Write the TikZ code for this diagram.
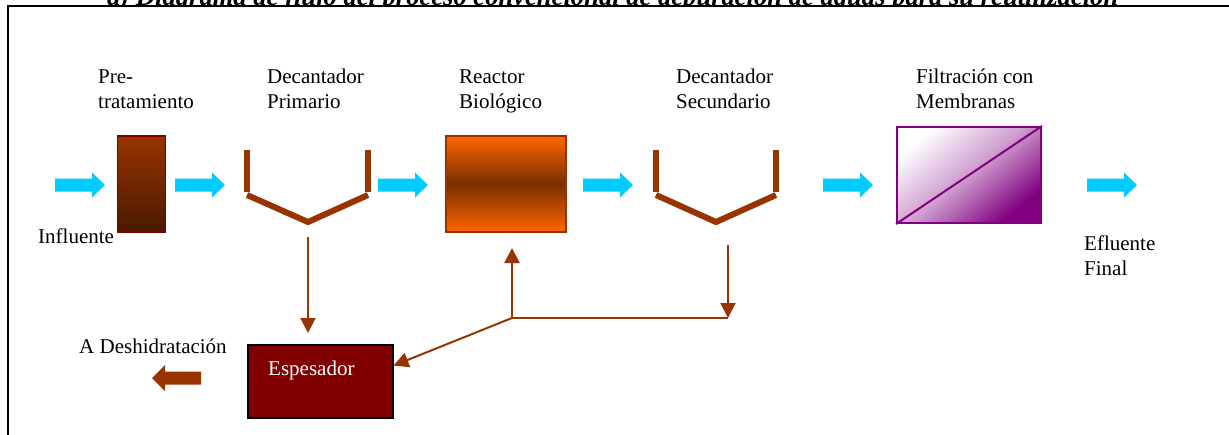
\documentclass[tikz,border=0pt]{standalone}
\usepackage{fontspec}
\setmainfont{Liberation Serif}
\usetikzlibrary{arrows.meta,calc}
\definecolor{rust}{HTML}{993300}
\definecolor{cyanar}{HTML}{00CCFF}
\definecolor{darkred}{HTML}{800000}
\definecolor{dkbrown}{HTML}{4A1A00}
\definecolor{orng}{HTML}{FF6600}
\definecolor{midbrown}{HTML}{7A2E00}
\definecolor{purp}{HTML}{800080}
\newcommand\bluearrow[4]{%
  \fill[cyanar] (#2,#4-6.5) -- (#3-13,#4-6.5) -- (#3-13,#4-12.5) -- (#3,#4)
    -- (#3-13,#4+12.5) -- (#3-13,#4+6.5) -- (#2,#4+6.5) -- cycle;
  \coordinate (#1) at ($(#2,#4)!0.5!(#3,#4)$);}
\begin{document}
\begin{tikzpicture}[x=1pt,y=-1pt,
  lbl/.style={anchor=base west, inner sep=0, align=left, font=\fontsize{21}{25}\selectfont},
  decant/.style={rust, line width=6pt},
  conn/.style={draw=rust, line width=2pt, -{Triangle[width=15pt,length=15pt]}},
  plain/.style={draw=rust, line width=2pt}]
\useasboundingbox (0,0) rectangle (1229,434);
% title (mostly cut off)
\node[anchor=base west, inner sep=0, font=\bfseries\itshape] (title) at (107,5)
  {\resizebox{1011pt}{!}{a) Diagrama de flujo del proceso convencional de depuración de aguas para su reutilización}};
% frame
\draw[line width=2pt, fill=white] (8,6) rectangle (1260,470);
% labels (base anchor = last line)
\node[lbl] (lpre) at (98,108) {Pre-\\tratamiento};
\node[lbl] (ldp) at (267,108) {Decantador\\Primario};
\node[lbl] (lrb) at (459,108) {Reactor\\Biológico};
\node[lbl] (lds) at (676,108) {Decantador\\Secundario};
\node[lbl] (lfm) at (916,108) {Filtración con\\Membranas};
\node[lbl] (linf) at (38,243) {Influente};
\node[lbl] (lef) at (1084,275) {Efluente\\Final};
\node[lbl] (ldes) at (79,353) {A Deshidratación};
% blue arrows
\bluearrow{a1}{55}{105}{185}
\bluearrow{a2}{175}{225}{185}
\bluearrow{a3}{378}{428}{185}
\bluearrow{a4}{583}{633}{185}
\bluearrow{a5}{823}{873}{185}
\bluearrow{a6}{1087}{1137}{185}
% pretratamiento
\node[draw=darkred, line width=1.5pt, top color=rust, bottom color=dkbrown,
  minimum width=48pt, minimum height=96pt, inner sep=0, anchor=north west] (pre) at (116.5,135) {};
% decantador primario
\draw[decant] (247,150) -- (247,192);
\draw[decant] (368,150) -- (368,192);
\draw[decant] (247,195) -- (308,222) -- (368,195);
\coordinate (d1b) at (308,237);
% reactor
\node[draw=rust, line width=2pt, top color=orng, bottom color=orng, middle color=midbrown,
  minimum width=120pt, minimum height=96pt, inner sep=0, anchor=north west] (reac) at (445,135) {};
% decantador secundario
\draw[decant] (656,150) -- (656,192);
\draw[decant] (776,150) -- (776,192);
\draw[decant] (656,195) -- (716,222) -- (776,195);
\coordinate (d2b) at (728,245);
% membranas
\shade[shading=axis, top color=white, bottom color=purp, middle color=purp!38!white, shading angle=40]
  (896,126) rectangle (1040,222);
\node[draw=purp, line width=2pt, minimum width=144pt, minimum height=96pt,
  inner sep=0, anchor=north west] (mem) at (896,126) {};
\draw[purp, line width=2pt] (mem.south west) -- (mem.north east);
% espesador
\node[draw=black, line width=1.5pt, fill=darkred, minimum width=145pt, minimum height=73pt,
  inner sep=0, anchor=north west] (esp) at (247,344) {};
\node[lbl, text=white] (lesp) at (268,375) {Espesador};
% brown block arrow
\fill[rust] (201,371.5) -- (165,371.5) -- (165,365) -- (152,378) -- (165,391) -- (165,384.5) -- (201,384.5) -- cycle;
% sludge lines
\coordinate (j) at (512,318);
\draw[conn, shorten >=11pt] (d1b) -- (d1b |- esp.north);
\draw[conn, shorten >=15pt] (j) -- (j |- reac.south);
\draw[plain] (j) -- (d2b |- j);
\draw[conn] (d2b) -- (d2b |- j);
\draw[conn] (j) -- ($(esp.north east)!0.29!(esp.south east)$);
\end{tikzpicture}
\end{document}
